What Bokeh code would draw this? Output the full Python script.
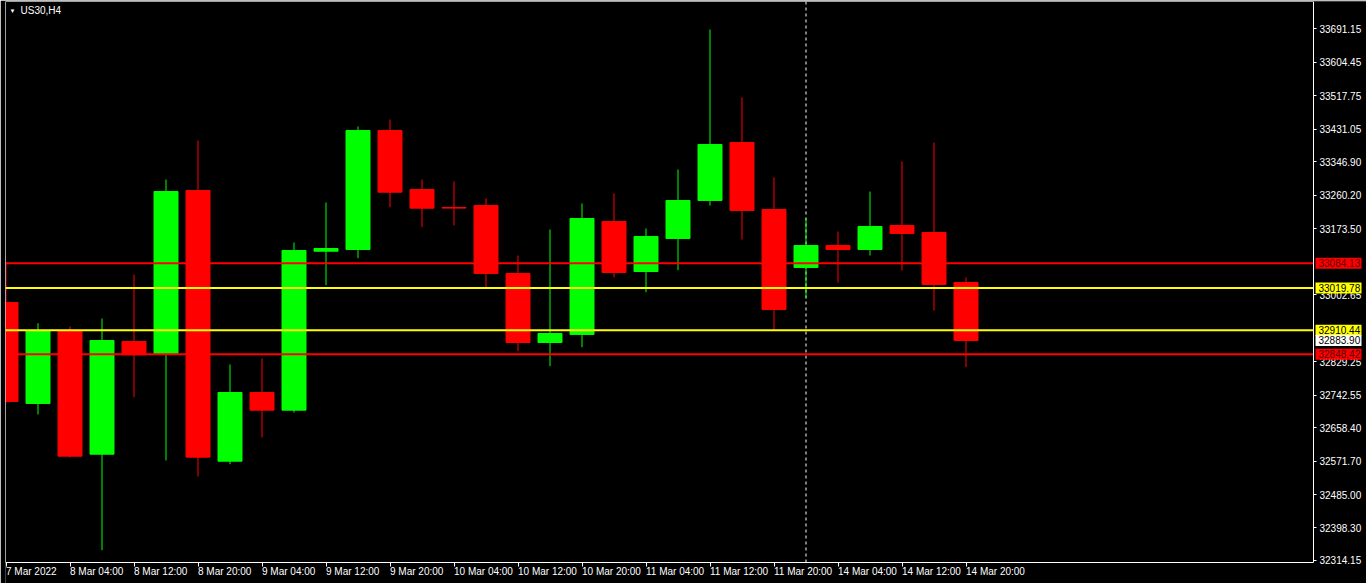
from bokeh.plotting import figure
from bokeh.models import ColumnDataSource, Label, FixedTicker, NumeralTickFormatter, LinearAxis
from bokeh.core.properties import value
from bokeh.embed import file_html
from bokeh.resources import INLINE

# ---------------- data ----------------
symbol = "US30,H4"

opens = [32982.3, 32720.8, 32909.0, 32589.4, 32881.3, 32850.3, 33272.4, 32571.3, 32749.2, 32703.4,
         33115.2, 33119.6, 33427.8, 33275.0, 33228.4, 33233.6, 33057.5, 32878.7, 32899.5, 33192.1,
         33062.6, 33148.1, 33246.5, 33396.7, 33223.2, 33073.0, 33130.0, 33119.6, 33181.8, 33163.6,
         33034.1]
highs = [33085.9, 32928.7, 32920.2, 32940.9, 33054.9, 33300.9, 33401.9, 32821.8, 32837.3, 33137.7,
         33241.3, 33438.2, 33456.3, 33300.9, 33295.7, 33251.7, 33104.1, 33171.4, 33238.8, 33264.7,
         33174.0, 33326.8, 33689.4, 33513.3, 33306.1, 33201.7, 33166.2, 33269.8, 33347.5, 33396.7,
         33047.1]
lows = [32720.8, 32692.3, 32580.9, 32340.8, 32737.1, 32573.1, 32531.7, 32563.5, 32632.7, 32697.4,
        33027.2, 33097.1, 33229.2, 33177.4, 33181.8, 33020.4, 32856.2, 32817.4, 32866.6, 33047.1,
        33009.0, 33066.0, 33233.6, 33145.5, 32912.4, 32993.5, 33034.1, 33104.1, 33065.2, 32961.6,
        32814.8]
closes = [32725.9, 32909.0, 32584.3, 32883.9, 32846.9, 33269.8, 32581.7, 32749.2, 32703.4, 33117.0,
          33122.2, 33427.8, 33268.0, 33226.6, 33226.8, 33057.5, 32878.7, 32902.1, 33199.9, 33060.0,
          33153.3, 33246.5, 33391.6, 33220.6, 32964.2, 33130.0, 33119.6, 33179.2, 33161.1, 33029.0,
          32883.90]

time_tick_bars = [0, 2, 4, 6, 8, 10, 12, 14, 16, 18, 20, 22, 24, 26, 28, 30]
time_tick_labels = ["7 Mar 2022", "8 Mar 04:00", "8 Mar 12:00", "8 Mar 20:00", "9 Mar 04:00",
                    "9 Mar 12:00", "9 Mar 20:00", "10 Mar 04:00", "10 Mar 12:00", "10 Mar 20:00",
                    "11 Mar 04:00", "11 Mar 12:00", "11 Mar 20:00", "14 Mar 04:00", "14 Mar 12:00",
                    "14 Mar 20:00"]

price_ticks = [33691.15, 33604.45, 33517.75, 33431.05, 33346.90, 33260.20, 33173.50, 33002.65,
               32829.25, 32742.55, 32658.40, 32571.70, 32485.00, 32398.30, 32314.15]

level_prices = [33084.13, 33019.78, 32910.44, 32848.42]
current_price = 32883.90
week_separator_bar = 25

# ---------------- styles / layout ----------------
UP, DOWN = "#00FF00", "#FF0000"
level_colors = ["#FF0000", "#FFFF00", "#FFFF00", "#FF0000"]
level_text_colors = ["#5a0000", "#000000", "#000000", "#5a0000"]
FONT = "Liberation Sans"
FS = "10px"

W, H = 1366, 583
BAR_PX = 32
PRICE_PER_PX = 2.59
border_l, border_t = 5, 1
chart_w = 1308            # candle area width (up to the price scale)
chart_h = 561             # candle area height (down to the time scale)
frame_w = W - border_l
frame_h = H - border_t
x_start = -0.5 / BAR_PX
x_scale_pos = x_start + chart_w / BAR_PX
x_end = x_start + frame_w / BAR_PX
y_end = 33761.9
y_axis_pos = y_end - chart_h * PRICE_PER_PX
y_start = y_end - frame_h * PRICE_PER_PX

idx = list(range(len(opens)))
colors = [UP if c > o else DOWN for o, c in zip(opens, closes)]
src = ColumnDataSource(dict(
    x=idx, open=opens, high=highs, low=lows, close=closes,
    top=[max(o, c) for o, c in zip(opens, closes)],
    bottom=[min(o, c) for o, c in zip(opens, closes)],
    color=colors,
))
lvl = ColumnDataSource(dict(
    y=level_prices, color=level_colors,
    x0=[x_start] * len(level_prices), x1=[x_scale_pos] * len(level_prices),
))

# price tags on the scale (levels + current price), drawn in this order
tag_prices = level_prices[:3] + [current_price] + level_prices[3:]
tag_fill = level_colors[:3] + ["#FFFFFF"] + level_colors[3:]
tag_text_color = level_text_colors[:3] + ["#000000"] + level_text_colors[3:]
tag_w_px = 46
tags = ColumnDataSource(dict(
    y=tag_prices, text=[f"{v:.2f}" for v in tag_prices], fill=tag_fill, tcolor=tag_text_color,
    xc=[x_scale_pos + (2 + tag_w_px / 2) / BAR_PX] * len(tag_prices),
    xt=[x_scale_pos + 5 / BAR_PX] * len(tag_prices),
))

p = figure(width=W, height=H, x_range=(x_start, x_end), y_range=(y_start, y_end),
           x_axis_location=None, y_axis_location=None, toolbar_location=None,
           output_backend="svg",
           min_border_left=border_l, min_border_right=0, min_border_top=border_t, min_border_bottom=0,
           background_fill_color="black", border_fill_color="black", outline_line_color=None)
p.grid.visible = False

# weekly separator (dashed, behind the candles)
p.segment(x0=[week_separator_bar], y0=[y_axis_pos], x1=[week_separator_bar], y1=[y_end],
          line_color="white", line_width=1, line_dash="3 3", level="underlay")

p.segment(x0="x", y0="low", x1="x", y1="high", source=src, line_color="color", line_width=1)
p.vbar(x="x", width=24 / BAR_PX, top="top", bottom="bottom", source=src,
       fill_color="color", line_color="color", line_width=1)

# horizontal levels (end at the price scale)
p.segment(x0="x0", y0="y", x1="x1", y1="y", source=lvl, line_color="color", line_width=2)


def styled(ax):
    ax.major_label_text_color = "white"
    ax.major_label_text_font = FONT
    ax.major_label_text_font_size = FS
    ax.axis_line_color = "white"
    ax.major_tick_line_color = "white"
    ax.major_tick_in = 0
    ax.minor_tick_line_color = None
    return ax


# time scale
xa = styled(LinearAxis(fixed_location=y_axis_pos, ticker=FixedTicker(ticks=time_tick_bars),
                       bounds=(x_start, x_scale_pos)))
xa.major_label_overrides = {b: t for b, t in zip(time_tick_bars, time_tick_labels)}
xa.major_label_orientation = -0.0001
xa.major_label_standoff = 5
xa.major_tick_out = 4
p.add_layout(xa, "below")

# price scale
ya = styled(LinearAxis(fixed_location=x_scale_pos, ticker=FixedTicker(ticks=price_ticks),
                       formatter=NumeralTickFormatter(format="0.00"), bounds=(y_axis_pos, y_end)))
ya.major_label_standoff = 3
ya.major_tick_out = 3
p.add_layout(ya, "right")

# top and left frame borders
top_ax = styled(LinearAxis(fixed_location=y_end, ticker=FixedTicker(ticks=[]),
                           bounds=(x_start, x_scale_pos)))
top_ax.major_tick_line_color = None
top_ax.major_label_text_font_size = "0px"
p.add_layout(top_ax, "above")
left_ax = styled(LinearAxis(fixed_location=x_start, ticker=FixedTicker(ticks=[]),
                            bounds=(y_axis_pos, y_end)))
left_ax.major_tick_line_color = None
left_ax.major_label_text_font_size = "0px"
p.add_layout(left_ax, "left")

# price tags
p.rect(x="xc", y="y", width=tag_w_px, height=11, width_units="screen", height_units="screen",
       source=tags, fill_color="fill", line_color=None, level="overlay")
p.text(x="xt", y="y", text="text", source=tags, text_color="tcolor", text_align="left",
       text_baseline="middle", text_font=value(FONT), text_font_size=value(FS), level="overlay")

# symbol caption
p.add_layout(Label(x=4, y=frame_h - 9, x_units="screen", y_units="screen", text="▼",
                   text_align="left", text_baseline="middle", text_color="white",
                   text_font=FONT, text_font_size="6px"))
p.add_layout(Label(x=15, y=frame_h - 9, x_units="screen", y_units="screen", text=symbol,
                   text_align="left", text_baseline="middle", text_color="white",
                   text_font=FONT, text_font_size=FS))

open("out.html", "w").write(file_html(p, INLINE))
